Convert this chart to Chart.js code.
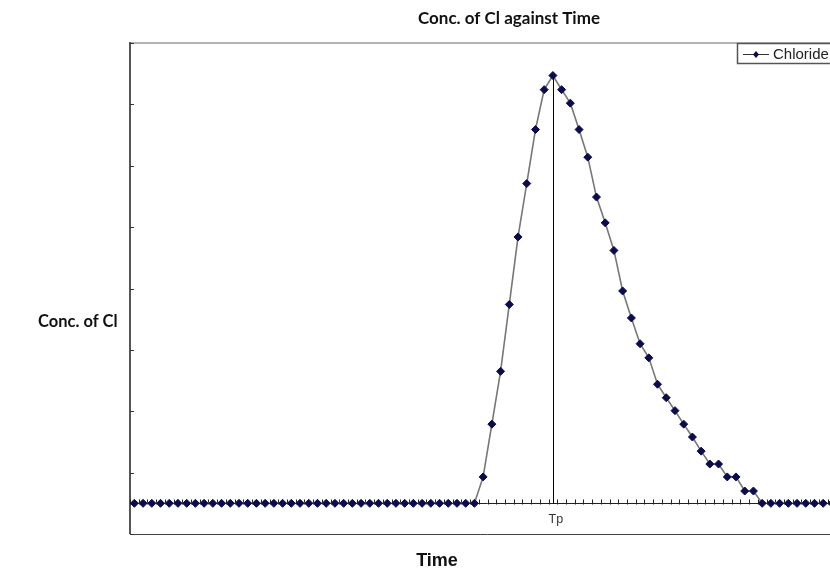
<!DOCTYPE html>
<html>
<head>
<meta charset="utf-8">
<script src="https://cdn.jsdelivr.net/npm/chart.js@4/dist/chart.umd.min.js"></script>
<style>
  html, body { margin: 0; padding: 0; background: #fff; width: 830px; height: 571px; overflow: hidden; }
  #wrap { position: relative; width: 850px; height: 571px; }
</style>
</head>
<body>
<div id="wrap"><canvas id="c" width="850" height="571"></canvas></div>
<script>
// ---- data ----
const chartTitle = 'Conc. of Cl against Time';
const xAxisTitle = 'Time';
const yAxisTitle = 'Conc. of Cl';
const seriesName = 'Chloride';
const peakLabel = 'Tp';
const peakIndex = 48;

// time steps (categories)
const timeSteps = [
  0,1,2,3,4,5,6,7,8,9,10,11,12,13,14,15,16,17,18,19,
  20,21,22,23,24,25,26,27,28,29,30,31,32,33,34,35,36,37,38,39,
  40,41,42,43,44,45,46,47,48,49,50,51,52,53,54,55,56,57,58,59,
  60,61,62,63,64,65,66,67,68,69,70,71,72,73,74,75,76,77,78,79,
  80,81
];
// chloride concentration (arbitrary units)
const chloride = [
  0,0,0,0,0,0,0,0,0,0,0,0,0,0,0,0,0,0,0,0,
  0,0,0,0,0,0,0,0,0,0,0,0,0,0,0,0,0,0,0,0,
  0.43,1.29,2.15,3.24,4.34,5.21,6.09,6.74,6.97,6.74,
  6.52,6.09,5.64,4.99,4.57,4.12,3.46,3.02,2.60,2.37,
  1.94,1.72,1.51,1.29,1.08,0.85,0.64,0.64,0.43,0.43,
  0.20,0.20,0,0,0,0,0,0,0,0,
  0,0
];
const yMin = -0.5, yMax = 7.5, yStep = 1;

const markerColor = '#0b0b4d';
const lineColor = '#777777';

const decor = {
  id: 'decor',
  beforeDatasetsDraw(chart) {
    const { ctx, chartArea: a, scales: { x, y } } = chart;
    ctx.save();
    // frame
    ctx.strokeStyle = '#b4b4b4'; ctx.lineWidth = 2;
    ctx.beginPath(); ctx.moveTo(a.left, a.top); ctx.lineTo(a.right, a.top); ctx.stroke();
    ctx.strokeStyle = '#555'; ctx.lineWidth = 2;
    ctx.beginPath(); ctx.moveTo(a.left, a.top - 1); ctx.lineTo(a.left, a.bottom); ctx.stroke();
    ctx.strokeStyle = '#444'; ctx.lineWidth = 1;
    ctx.beginPath(); ctx.moveTo(a.left, a.bottom + 0.5); ctx.lineTo(a.right, a.bottom + 0.5); ctx.stroke();
    // y ticks (inward)
    ctx.strokeStyle = '#333'; ctx.lineWidth = 1;
    for (let v = yMin; v <= yMax + 1e-9; v += yStep) {
      const py = Math.round(y.getPixelForValue(v)) + 0.5;
      ctx.beginPath(); ctx.moveTo(a.left, py); ctx.lineTo(a.left + 4, py); ctx.stroke();
    }
    // x axis line at zero with ticks between categories
    const y0 = Math.round(y.getPixelForValue(0)) + 0.5;
    ctx.strokeStyle = '#222';
    ctx.beginPath(); ctx.moveTo(a.left, y0); ctx.lineTo(a.right, y0); ctx.stroke();
    for (let i = 0; i <= timeSteps.length; i++) {
      const px = Math.round((x.getPixelForValue(i - 1) + x.getPixelForValue(i)) / 2) + 0.5;
      ctx.beginPath(); ctx.moveTo(px, y0 - 4); ctx.lineTo(px, y0 + 1); ctx.stroke();
    }
    // vertical line at peak
    const pxp = Math.round(x.getPixelForValue(peakIndex)) + 0.5;
    ctx.strokeStyle = '#000'; ctx.lineWidth = 1;
    ctx.beginPath(); ctx.moveTo(pxp, y.getPixelForValue(chloride[peakIndex])); ctx.lineTo(pxp, y0); ctx.stroke();
    ctx.restore();
  },
  afterDraw(chart) {
    const { ctx, chartArea: a, scales: { x, y } } = chart;
    ctx.save();
    ctx.fillStyle = '#111';
    ctx.textBaseline = 'middle';
    ctx.textAlign = 'center';
    ctx.font = 'bold 17px Lato';
    ctx.fillText(chartTitle, 509, 19);
    ctx.textAlign = 'left';
    ctx.font = 'bold 16.5px Lato';
    ctx.fillText(yAxisTitle, 38, 322);
    ctx.textAlign = 'center';
    ctx.font = 'bold 18px "Liberation Sans"';
    ctx.fillText(xAxisTitle, 437, 561);
    // peak label
    ctx.font = '12.5px "Liberation Sans"';
    ctx.fillStyle = '#333';
    ctx.fillText(peakLabel, x.getPixelForValue(peakIndex) + 3, 520);
    // legend box
    const lx = 737, ly = a.top, lw = 104, lh = 20;
    ctx.fillStyle = '#fff';
    ctx.fillRect(lx, ly, lw, lh);
    ctx.strokeStyle = '#555'; ctx.lineWidth = 1.5;
    ctx.strokeRect(lx + 0.5, ly + 0.5, lw, lh);
    const my = ly + 11;
    ctx.strokeStyle = '#333'; ctx.lineWidth = 1;
    ctx.beginPath(); ctx.moveTo(lx + 6, my + 0.5); ctx.lineTo(lx + 32, my + 0.5); ctx.stroke();
    ctx.fillStyle = markerColor;
    ctx.beginPath();
    ctx.moveTo(lx + 19, my - 3); ctx.lineTo(lx + 22, my + 0.5); ctx.lineTo(lx + 19, my + 4); ctx.lineTo(lx + 16, my + 0.5);
    ctx.closePath(); ctx.fill();
    ctx.fillStyle = '#222';
    ctx.textAlign = 'left';
    ctx.font = '15px "Liberation Sans"';
    ctx.fillText(seriesName, lx + 36, my + 1);
    ctx.restore();
  }
};

new Chart(document.getElementById('c'), {
  type: 'line',
  data: {
    labels: timeSteps,
    datasets: [{
      label: seriesName,
      data: chloride,
      borderColor: lineColor,
      borderWidth: 1.6,
      pointStyle: 'rectRot',
      pointRadius: 4,
      pointBackgroundColor: markerColor,
      pointBorderColor: markerColor,
      pointBorderWidth: 1,
      tension: 0,
      clip: false
    }]
  },
  options: {
    responsive: false,
    animation: false,
    devicePixelRatio: 1,
    layout: { padding: { left: 130, top: 43, right: 5, bottom: 37 } },
    plugins: { legend: { display: false }, title: { display: false }, tooltip: { enabled: false } },
    scales: {
      x: { type: 'category', offset: true, display: false },
      y: { type: 'linear', min: yMin, max: yMax, display: false }
    }
  },
  plugins: [decor]
});
</script>
</body>
</html>
